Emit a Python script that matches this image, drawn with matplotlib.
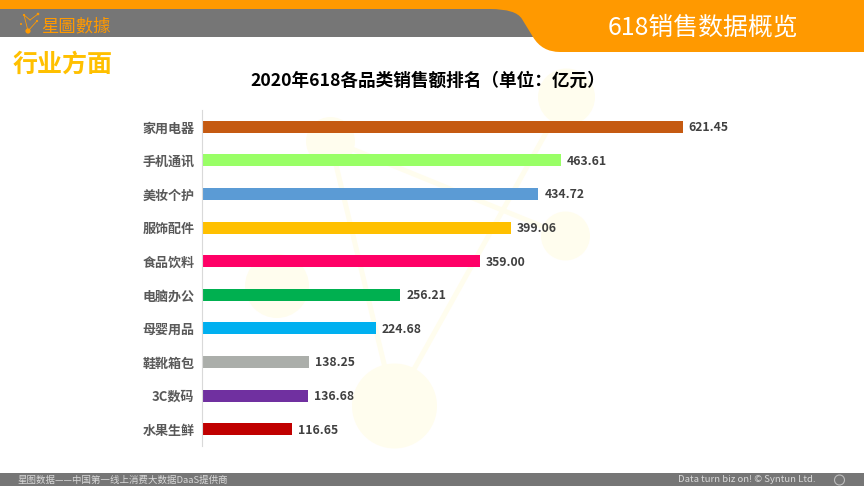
#!/usr/bin/python3

import matplotlib
import matplotlib.pyplot as plt
from matplotlib.patches import Circle, PathPatch, Rectangle
from matplotlib.path import Path
import sys

matplotlib.use("Agg")
plt.rcParams["font.family"] = ["Noto Sans CJK SC", "DejaVu Sans"]


def main():
    names = [
        "家用电器", "手机通讯", "美妆个护", "服饰配件", "食品饮料",
        "电脑办公", "母婴用品", "鞋靴箱包", "3C数码", "水果生鲜",
    ]
    sales = [621.45, 463.61, 434.72, 399.06, 359.00, 256.21, 224.68, 138.25, 136.68, 116.65]
    colors = [
        "#c55a11", "#99ff66", "#5b9bd5", "#ffc000", "#ff0066",
        "#00b050", "#00b0f0", "#abaeaa", "#7030a0", "#c00000",
    ]

    orange = "#ff9900"
    grey = "#767676"
    pale = "#fffdee"

    fig = plt.figure(figsize=(8.64, 4.86), dpi=100)

    # slide furniture, in pixels of the picture
    back = fig.add_axes([0, 0, 1, 1])
    back.set_xlim(0, 864)
    back.set_ylim(486, 0)
    back.axis("off")

    # pale logo behind the bars
    for x, y, r in [(566.5, 97, 28.5), (330.5, 141.5, 24.5), (565.5, 236, 24.5), (277, 286, 32), (394.5, 406, 42.5)]:
        back.add_patch(Circle((x, y), r, color=pale, lw=0))
    for x1, y1, x2, y2 in [
        (330, 140, 394, 405),
        (330, 140, 566, 236),
        (566, 97, 394, 405),
    ]:
        back.plot([x1, x2], [y1, y2], color=pale, lw=3.6, solid_capstyle="butt")

    back.add_patch(Rectangle((0, 0), 864, 9, color=orange, lw=0))
    back.add_patch(Rectangle((0, 9), 535, 28, color=grey, lw=0))
    band = Path(
        [(490, 0), (864, 0), (864, 52), (560, 52), (542, 52), (533, 37), (522, 19), (516, 9), (490, 9), (490, 0)],
        [Path.MOVETO, Path.LINETO, Path.LINETO, Path.LINETO, Path.CURVE3, Path.CURVE3,
         Path.LINETO, Path.CURVE3, Path.CURVE3, Path.CLOSEPOLY],
    )
    back.add_patch(PathPatch(band, color=orange, lw=0))
    back.add_patch(Rectangle((0, 473), 864, 13, color=grey, lw=0))

    # logo dots
    for x, y, r in [(28, 31, 2.6), (38, 14, 1.3), (24, 15, 1.1), (37, 21, 1.1), (21, 24, 1)]:
        back.add_patch(Circle((x, y), r, color=orange, lw=0))
    for x1, y1, x2, y2 in [(28, 31, 24, 15), (28, 31, 37, 21), (24, 15, 30, 20), (30, 20, 38, 14)]:
        back.plot([x1, x2], [y1, y2], color=orange, lw=0.6)
    back.add_patch(Circle((839.5, 480), 5, fc="none", ec="#bdbdbd", lw=0.8))

    back.text(41, 26, "星圖數據", color=orange, fontsize=12.5, ha="left", va="center")
    back.text(702.5, 28, "618销售数据概览", color="white", fontsize=17.9, ha="center", va="center")
    back.text(12.5, 65, "行业方面", color="#ffc000", fontsize=18, fontweight="bold", ha="left", va="center")
    back.text(424, 80.5, "2020年618各品类销售额排名（单位：亿元）", color="black", fontsize=12.7,
              fontweight="bold", ha="center", va="center", position=(428, 80.5))
    back.text(18, 480, "星图数据——中国第一线上消费大数据DaaS提供商", color="#d9d9d9", fontsize=6.8,
              ha="left", va="center")
    back.text(678, 479.5, "Data turn biz on! © Syntun Ltd.", color="#d9d9d9", fontsize=6.9,
              ha="left", va="center")

    ax = fig.add_axes([202 / 864, 1 - 446 / 486, 481 / 864, 336 / 486])
    ax.patch.set_alpha(0)
    bars = ax.barh(names, sales, height=0.36, color=colors)
    ax.set_xlim(0, 621.45)
    ax.set_ylim(9.5, -0.5)
    ax.xaxis.set_visible(False)
    ax.tick_params(axis="y", length=0, pad=5.5, labelsize=9.4, labelcolor="#595959")
    for label in ax.get_yticklabels():
        label.set_fontweight("bold")
    for side in ["top", "right", "bottom"]:
        ax.spines[side].set_visible(False)
    ax.spines["left"].set_color("#d9d9d9")

    for bar, value in zip(bars, sales):
        ax.annotate(
            "{:.2f}".format(value),
            (value, bar.get_y() + bar.get_height() / 2),
            xytext=(4.2, -0.7),
            textcoords="offset points",
            va="center",
            fontsize=8.8,
            fontweight="bold",
            color="#404040",
            annotation_clip=False,
        )

    fig.savefig("out.png", dpi=100)


if __name__ == "__main__":
    sys.exit(main())
